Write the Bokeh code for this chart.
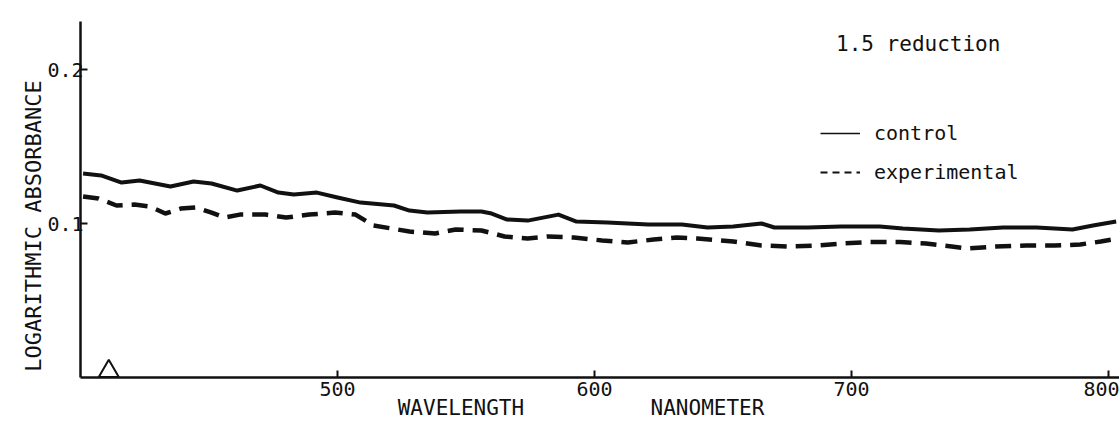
from bokeh.plotting import figure
from bokeh.models import Range1d, FixedTicker, Label, Legend, LegendItem
from bokeh.embed import file_html
from bokeh.resources import INLINE

# ---- data ----
wavelength_control = [401, 408, 416, 423, 435, 444, 451, 461, 470, 477, 483, 492, 500,
                      509, 522, 528, 535, 548, 556, 560, 566, 574, 586, 593, 605, 621,
                      634, 644, 654, 665, 670, 683, 696, 711, 720, 734, 746, 759, 772,
                      786, 794, 803]
absorbance_control = [0.1325, 0.1312, 0.1266, 0.1279, 0.1240, 0.1273, 0.1260, 0.1214,
                      0.1247, 0.1201, 0.1188, 0.1201, 0.1169, 0.1136, 0.1117, 0.1084,
                      0.1071, 0.1078, 0.1078, 0.1065, 0.1026, 0.1019, 0.1058, 0.1013,
                      0.1006, 0.0994, 0.0994, 0.0974, 0.0981, 0.1000, 0.0974, 0.0974,
                      0.0981, 0.0981, 0.0968, 0.0955, 0.0961, 0.0974, 0.0974, 0.0961,
                      0.0987, 0.1013]

wavelength_experimental = [401, 407, 414, 421, 427, 433, 439, 445, 451, 456, 462, 472,
                           480, 489, 499, 507, 514, 521, 528, 538, 546, 556, 565, 574,
                           582, 592, 603, 613, 623, 632, 640, 654, 665, 675, 686, 696,
                           707, 719, 729, 739, 745, 756, 768, 779, 789, 797, 803]
absorbance_experimental = [0.1175, 0.1162, 0.1117, 0.1123, 0.1110, 0.1065, 0.1097,
                           0.1104, 0.1071, 0.1039, 0.1058, 0.1058, 0.1039, 0.1058,
                           0.1071, 0.1058, 0.0987, 0.0968, 0.0948, 0.0935, 0.0961,
                           0.0955, 0.0916, 0.0903, 0.0916, 0.0909, 0.0890, 0.0877,
                           0.0896, 0.0909, 0.0903, 0.0883, 0.0857, 0.0851, 0.0857,
                           0.0870, 0.0880, 0.0880, 0.0870, 0.0851, 0.0838, 0.0850,
                           0.0857, 0.0857, 0.0864, 0.0883, 0.0900]

marker_wavelength = [411]
marker_absorbance = [0.004]

x_ticks = [500, 600, 700, 800]
y_ticks = [0.1, 0.2]

series_names = ["control", "experimental"]
title_text = "1.5 reduction"
y_title = "LOGARITHMIC ABSORBANCE"
x_title_left = "WAVELENGTH"
x_title_right = "NANOMETER"

FONT = "DejaVu Sans Mono"
INK = "#111111"
NBSP = "\u00a0"

p = figure(width=1119, height=428, output_backend="svg", toolbar_location=None,
           x_range=Range1d(400, 804.3), y_range=Range1d(0, 0.2312),
           min_border_left=80, min_border_right=0, min_border_top=21,
           min_border_bottom=51)
p.outline_line_color = None
p.xgrid.visible = False
p.ygrid.visible = False
p.background_fill_color = "white"
p.border_fill_color = "white"

# curves
r_control = p.line(wavelength_control, absorbance_control, line_color=INK,
                   line_width=4, line_join="round")
r_exp = p.line(wavelength_experimental, absorbance_experimental, line_color=INK,
               line_width=4.5, line_dash="16 9")

# triangle marker on the baseline
p.scatter(marker_wavelength, marker_absorbance, marker="triangle", size=20,
          fill_color=None, line_color=INK, line_width=2)

# legend proxies (thin sample lines, never visible in the frame)
nan = float("nan")
leg_c = p.line([nan], [nan], line_color=INK, line_width=1.6)
leg_e = p.line([nan], [nan], line_color=INK, line_width=1.8, line_dash="7 5")
legend = Legend(items=[LegendItem(label=series_names[0], renderers=[leg_c]),
                       LegendItem(label=series_names[1], renderers=[leg_e])],
                location=(740, 193), border_line_color=None,
                background_fill_alpha=0, padding=0, margin=0, spacing=15,
                glyph_width=40, glyph_height=20, label_height=20,
                label_standoff=14, label_text_font=FONT,
                label_text_font_size="20px", label_text_color=INK)
p.add_layout(legend)

# axes
for ax in (p.xaxis[0], p.yaxis[0]):
    ax.axis_line_color = INK
    ax.axis_line_width = 2.5
    ax.major_tick_line_color = INK
    ax.major_tick_line_width = 2
    ax.minor_tick_line_color = None
    ax.major_tick_in = 7
    ax.major_tick_out = 0
    ax.major_label_text_font = FONT
    ax.major_label_text_font_size = "20px"
    ax.major_label_text_color = INK

p.xaxis.ticker = FixedTicker(ticks=x_ticks)
p.yaxis.ticker = FixedTicker(ticks=y_ticks)
p.xaxis.major_label_standoff = 4
p.yaxis.major_label_standoff = -3

p.yaxis.axis_label = y_title + NBSP * 4
p.yaxis.axis_label_text_font = FONT
p.yaxis.axis_label_text_font_size = "22px"
p.yaxis.axis_label_text_font_style = "normal"
p.yaxis.axis_label_text_color = INK
p.yaxis.axis_label_standoff = -2

p.xaxis.axis_label = x_title_left + NBSP * 10 + x_title_right + NBSP * 3
p.xaxis.axis_label_text_font = FONT
p.xaxis.axis_label_text_font_size = "21px"
p.xaxis.axis_label_text_font_style = "normal"
p.xaxis.axis_label_text_color = INK
p.xaxis.axis_label_standoff = -3

# title text inside the frame
p.add_layout(Label(x=694, y=0.2169, text=title_text, text_font=FONT,
                   text_font_size="21px", text_color=INK, text_baseline="middle"))

open("out.html", "w").write(file_html(p, INLINE))
